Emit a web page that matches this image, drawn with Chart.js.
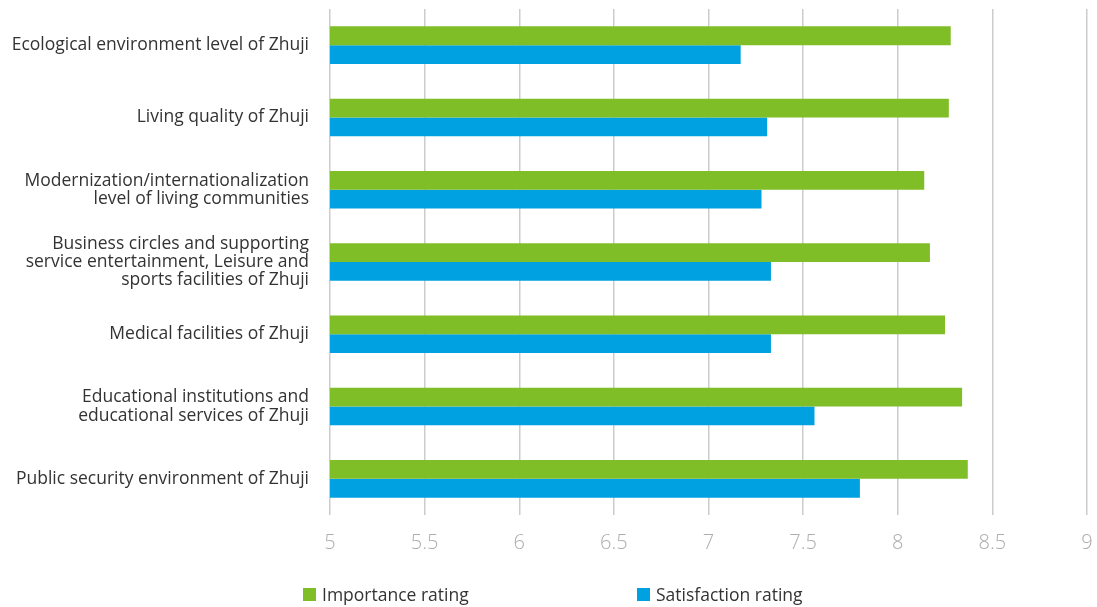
<!DOCTYPE html>
<html>
<head>
<meta charset="utf-8">
<script src="https://cdn.jsdelivr.net/npm/chart.js@4.4.1/dist/chart.umd.min.js"></script>
<style>
  html, body { margin: 0; padding: 0; background: #fff; }
  #wrap { position: relative; width: 1097px; height: 607px; }
  #chart { display: block; }
  .key { position: absolute; top: 588px; width: 13px; height: 13px; }
  .key-text { position: absolute; top: 582px; font: 17.5px "Open Sans", sans-serif; color: #333; white-space: nowrap; }
</style>
</head>
<body>
<div id="wrap">
  <canvas id="chart" width="1097" height="607"></canvas>
  <div class="key" style="left:303px; background:#80be28"></div>
  <div class="key-text" style="left:322px">Importance rating</div>
  <div class="key" style="left:637px; background:#00a1e0"></div>
  <div class="key-text" style="left:656px">Satisfaction rating</div>
</div>
<script>
// Survey items, top to bottom
const categories = [
  'Ecological environment level of Zhuji',
  'Living quality of Zhuji',
  ['Modernization/internationalization', 'level of living communities'],
  ['Business circles and supporting', 'service entertainment, Leisure and', 'sports facilities of Zhuji'],
  'Medical facilities of Zhuji',
  ['Educational institutions and', 'educational services of Zhuji'],
  'Public security environment of Zhuji'
];

const importanceRating   = [8.28, 8.27, 8.14, 8.17, 8.25, 8.34, 8.37];
const satisfactionRating = [7.17, 7.31, 7.28, 7.33, 7.33, 7.56, 7.80];

const xMin = 5, xMax = 9, xStep = 0.5;

const GREEN = '#80be28';
const BLUE  = '#00a1e0';

new Chart(document.getElementById('chart'), {
  type: 'bar',
  data: {
    labels: categories,
    datasets: [
      { label: 'Importance rating', data: importanceRating, backgroundColor: GREEN },
      { label: 'Satisfaction rating', data: satisfactionRating, backgroundColor: BLUE }
    ]
  },
  options: {
    indexAxis: 'y',
    responsive: false,
    animation: false,
    categoryPercentage: 0.52,
    barPercentage: 1.0,
    layout: { padding: { top: 9, right: 10, bottom: 36, left: 0 } },
    plugins: {
      legend: { display: false },
      tooltip: { enabled: false }
    },
    scales: {
      x: {
        min: xMin,
        max: xMax,
        ticks: {
          stepSize: xStep,
          padding: 16,
          maxRotation: 0,
          color: '#adadad',
          // narrow, light figures for the value axis
          font: { family: 'Open Sans', size: 20, style: 'condensed', weight: 300 },
          callback: (v) => String(+v)
        },
        grid: { color: '#cccccc', lineWidth: 1.5, drawTicks: false },
        border: { display: false },
        afterFit: (scale) => {
          scale.paddingLeft = 0;
          scale.paddingRight = 0;
        }
      },
      y: {
        ticks: {
          padding: 21,
          color: '#333333',
          font: { family: 'Open Sans', size: 17.5, lineHeight: 1.05 }
        },
        grid: { display: false, drawTicks: false },
        border: { display: false },
        // fixed label column; no extra room reserved for the tall labels
        afterFit: (scale) => {
          scale.width = 330;
          scale.paddingTop = 0;
          scale.paddingBottom = 0;
        }
      }
    }
  }
});
</script>
</body>
</html>
